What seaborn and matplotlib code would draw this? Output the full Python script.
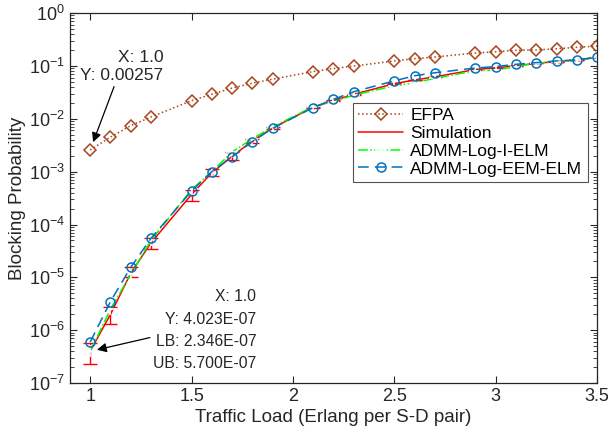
import matplotlib

matplotlib.use("Agg")

import matplotlib.pyplot as plt
import matplotlib.ticker as mticker
import numpy as np
import pandas as pd
import seaborn as sns

# traffic load points (Erlang per S-D pair)
load = [1.0, 1.1, 1.2, 1.3, 1.5, 1.6, 1.7, 1.8, 1.9, 2.1, 2.2,
        2.3, 2.5, 2.6, 2.7, 2.9, 3.0, 3.1, 3.2, 3.3, 3.4, 3.5]

efpa = [0.00257, 0.0045, 0.0074, 0.0108, 0.022, 0.029, 0.038, 0.047, 0.056, 0.078, 0.089,
        0.099, 0.124, 0.137, 0.147, 0.175, 0.185, 0.197, 0.20, 0.21, 0.224, 0.237]

sim = [4.023e-7, 2.0e-6, 1.2e-5, 4.5e-5, 3.7e-4, 9.5e-4, 1.95e-3, 3.8e-3, 6.7e-3, 0.0165, 0.022,
       0.029, 0.046, 0.054, 0.062, 0.085, 0.092, 0.100, 0.112, 0.120, 0.130, 0.145]
sim_lb = [2.346e-7, 1.3e-6, 1.0e-5, 3.4e-5, 2.8e-4, 8.3e-4, 1.65e-3, 3.5e-3, 6.3e-3, 0.016, 0.0215,
          0.0285, 0.0455, 0.0535, 0.0615, 0.0845, 0.0915, 0.0995, 0.1115, 0.1195, 0.1295, 0.1445]
sim_ub = [5.700e-7, 2.8e-6, 1.55e-5, 5.6e-5, 4.5e-4, 1.1e-3, 2.3e-3, 4.2e-3, 7.1e-3, 0.017, 0.0225,
          0.0295, 0.0465, 0.0545, 0.0625, 0.0855, 0.0925, 0.1005, 0.1125, 0.1205, 0.1305, 0.1455]

i_elm = [4.0e-7, 2.5e-6, 1.15e-5, 5.0e-5, 4.6e-4, 1.0e-3, 2.35e-3, 4.2e-3, 7.0e-3, 0.017, 0.021,
         0.028, 0.042, 0.048, 0.058, 0.081, 0.083, 0.097, 0.112, 0.120, 0.128, 0.145]

eem_elm = [6.0e-7, 3.5e-6, 1.55e-5, 5.5e-5, 4.3e-4, 1.0e-3, 1.9e-3, 3.7e-3, 6.6e-3, 0.0163, 0.0233,
           0.0324, 0.052, 0.065, 0.074, 0.091, 0.097, 0.107, 0.115, 0.124, 0.129, 0.145]

sns.set_theme(style="ticks")
plt.rcParams["font.family"] = ["Liberation Sans", "DejaVu Sans"]
plt.rcParams["mathtext.fontset"] = "custom"
plt.rcParams["mathtext.rm"] = "Liberation Sans"
plt.rcParams["mathtext.it"] = "Liberation Sans:italic"

df = pd.DataFrame({"load": load, "efpa": efpa, "sim": sim, "i_elm": i_elm, "eem_elm": eem_elm})

dark = "#262626"
fig, ax = plt.subplots(figsize=(6.08, 4.32), dpi=100)

sns.lineplot(data=df, x="load", y="efpa", ax=ax, color="#A8461C", linestyle=":", lw=1.1,
             marker="D", markersize=6.5, markerfacecolor="none", markeredgecolor="#A8461C",
             markeredgewidth=1.1, label="EFPA")
sns.lineplot(data=df, x="load", y="sim", ax=ax, color="red", lw=1.1, label="Simulation")
sim_arr = np.array(sim)
ax.errorbar(load, sim, yerr=[sim_arr - np.array(sim_lb), np.array(sim_ub) - sim_arr],
            fmt="none", ecolor="red", elinewidth=1.0, capsize=5, capthick=1.0)
sns.lineplot(data=df, x="load", y="i_elm", ax=ax, color="#00FF00", linestyle="-.", lw=1.1,
             marker="+", markersize=8, markeredgewidth=1.2, label="ADMM-Log-I-ELM")
sns.lineplot(data=df, x="load", y="eem_elm", ax=ax, color="#0072BD", linestyle=(0, (7, 4)), lw=1.1,
             marker="o", markersize=6.5, markerfacecolor="none", markeredgecolor="#0072BD",
             markeredgewidth=1.1, label="ADMM-Log-EEM-ELM")

ax.set_yscale("log")
ax.set_xlim(0.9, 3.5)
ax.set_ylim(1e-7, 1)
ax.set_xticks([1, 1.5, 2, 2.5, 3, 3.5])
ax.set_xticklabels(["1", "1.5", "2", "2.5", "3", "3.5"])
ax.yaxis.set_major_locator(mticker.FixedLocator([10.0 ** k for k in range(-7, 1)]))
ax.yaxis.set_minor_locator(mticker.LogLocator(base=10, subs=np.arange(2, 10), numticks=20))
ax.yaxis.set_minor_formatter(mticker.NullFormatter())
ax.yaxis.set_major_formatter(mticker.LogFormatterSciNotation())

ax.tick_params(which="both", direction="in", top=True, right=True, colors=dark,
               labelcolor=dark, labelsize=13)
ax.tick_params(which="major", length=5, width=0.8)
ax.tick_params(which="minor", length=3, width=0.6)
for sp in ax.spines.values():
    sp.set_visible(True)
    sp.set_color(dark)
    sp.set_linewidth(0.9)

ax.set_xlabel("Traffic Load (Erlang per S-D pair)", fontsize=13.5, color=dark, labelpad=3)
ax.set_ylabel("Blocking Probability", fontsize=13.5, color=dark, labelpad=2)

leg = ax.legend(loc="upper right", bbox_to_anchor=(0.982, 0.757), fontsize=12.5,
                frameon=True, fancybox=False, handlelength=2.6, borderpad=0.3,
                labelspacing=0.15, handletextpad=0.4, borderaxespad=0)
leg.get_frame().set_edgecolor(dark)
leg.get_frame().set_linewidth(0.8)
for t in leg.get_texts():
    t.set_color("black")

ax.annotate("X: 1.0\nY: 0.00257", xy=(1.0, efpa[0]), xytext=(1.36, 0.097),
            ha="right", va="center", fontsize=12.5, linespacing=1.3,
            arrowprops=dict(arrowstyle="-|>", color="black", lw=0.9, mutation_scale=14,
                            shrinkA=0, shrinkB=6))
ax.annotate("X: 1.0\nY: 4.023E-07\nLB: 2.346E-07\nUB: 5.700E-07", xy=(1.0, i_elm[0]),
            xytext=(1.82, 1.0e-6), ha="right", va="center", fontsize=11.3, linespacing=1.6,
            arrowprops=dict(arrowstyle="-|>", color="black", lw=0.9, mutation_scale=14,
                            shrinkA=0, shrinkB=5, relpos=(0, 0.42)))

fig.subplots_adjust(left=0.115, right=0.982, top=0.97, bottom=0.113)
fig.savefig("out.png", dpi=100)
